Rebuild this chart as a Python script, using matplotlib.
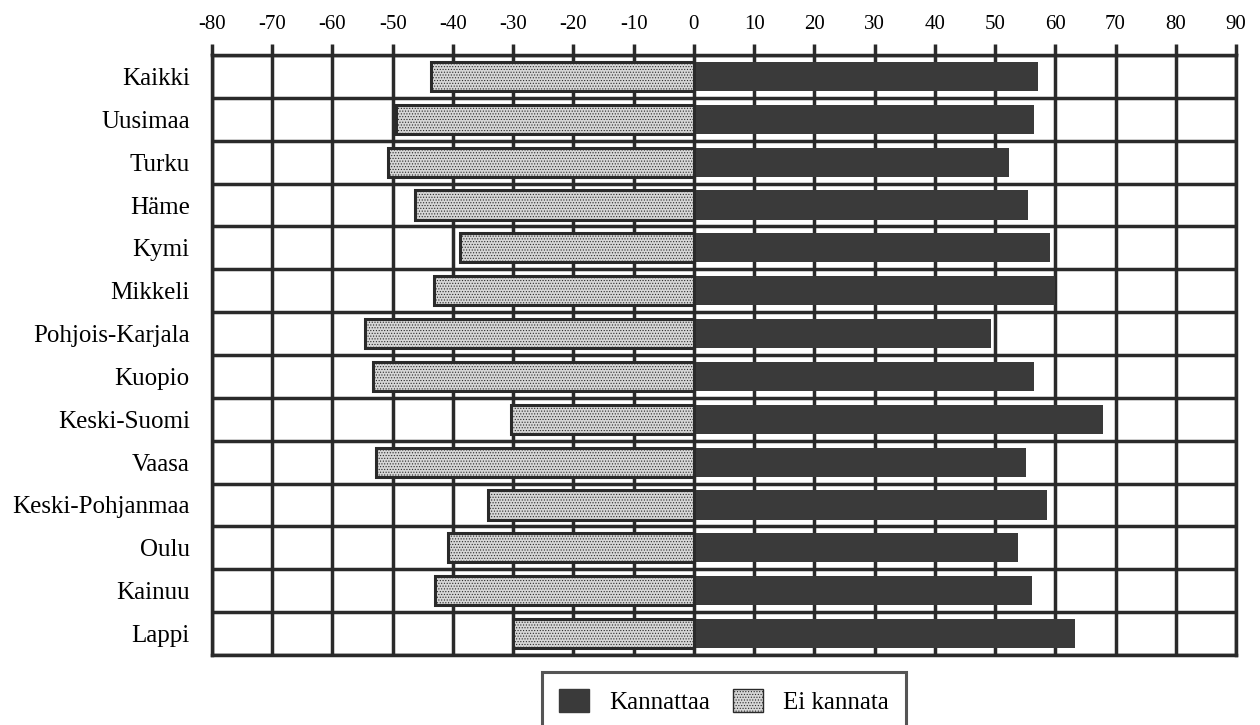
import matplotlib
matplotlib.use("Agg")
import matplotlib.pyplot as plt
import numpy as np
from matplotlib.patches import Patch

regions = ["Kaikki", "Uusimaa", "Turku", "Häme", "Kymi", "Mikkeli",
           "Pohjois-Karjala", "Kuopio", "Keski-Suomi", "Vaasa",
           "Keski-Pohjanmaa", "Oulu", "Kainuu", "Lappi"]
kannattaa = [57.2, 56.4, 52.3, 55.5, 59.1, 60.0, 49.3, 56.5, 68.0, 55.1, 58.7, 53.8, 56.1, 63.2]
ei_kannata = [-43.7, -49.4, -50.7, -46.3, -38.8, -43.2, -54.6, -53.3, -30.4, -52.8, -34.2, -40.9, -42.9, -30.0]
xticks = list(range(-80, 91, 10))
legend_labels = ["Kannattaa", "Ei kannata"]

plt.rcParams['font.family'] = ['Liberation Serif', 'DejaVu Serif']
plt.rcParams['hatch.linewidth'] = 0.5

fig = plt.figure(figsize=(12.6, 7.25), dpi=100)
ax = fig.add_axes([212/1260, 1-655/725, (1236-212)/1260, 600/725])

y = np.arange(len(regions))
dark = '#3a3a3a'
line = '#2a2a2a'
light = '#d6d6d6'

ax.barh(y, kannattaa, height=0.68, color=dark, edgecolor=dark, linewidth=0, zorder=3)
ax.barh(y, ei_kannata, height=0.68, color=light, edgecolor=line,
        hatch='......', linewidth=2.2, zorder=3)

ax.set_xlim(-80, 90)
ax.set_ylim(len(regions) - 0.5, -0.5)
ax.set_xticks(xticks)
ax.set_xticklabels([str(v) for v in xticks], fontsize=15)
ax.xaxis.tick_top()
ax.tick_params(axis='x', length=8, width=2.5, color=line, pad=7)
ax.set_yticks(y)
ax.set_yticklabels(regions, fontsize=18)
ax.tick_params(axis='y', length=0, pad=16)
ax.set_yticks(np.arange(len(regions) + 1) - 0.5, minor=True)
ax.tick_params(axis='y', which='minor', length=0)
ax.grid(axis='x', which='major', color=line, linewidth=2.5, zorder=1)
ax.grid(axis='y', which='minor', color=line, linewidth=2.5, zorder=1)
ax.set_axisbelow(True)
for s in ax.spines.values():
    s.set_linewidth(2.5)
    s.set_color(line)

handles = [Patch(facecolor=dark, edgecolor=dark),
           Patch(facecolor=light, edgecolor=line, hatch='......', linewidth=1)]
leg = ax.legend(handles, legend_labels, loc='upper center', bbox_to_anchor=(0.5, -0.028),
                ncol=2, fontsize=18, frameon=True, fancybox=False,
                handlelength=1.2, handleheight=1.0, columnspacing=0.9,
                handletextpad=0.8, borderpad=0.7, borderaxespad=0)
leg.get_frame().set_edgecolor(line)
leg.get_frame().set_linewidth(2.2)

fig.savefig("out.png", dpi=100)
